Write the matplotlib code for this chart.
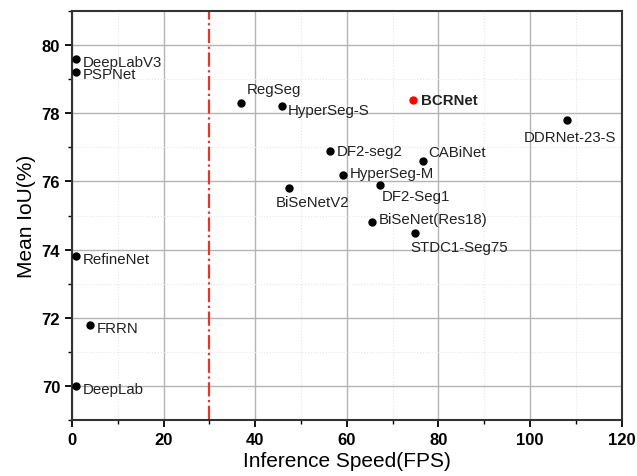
import matplotlib
matplotlib.use('Agg')
from matplotlib import pyplot as plt
from matplotlib.ticker import MultipleLocator

# Data
# ======================================================================
names = ['DeepLabV3', 'PSPNet', 'RegSeg', 'HyperSeg-S', 'BCRNet', 'DDRNet-23-S',
         'DF2-seg2', 'CABiNet', 'HyperSeg-M', 'DF2-Seg1', 'BiSeNetV2',
         'BiSeNet(Res18)', 'STDC1-Seg75', 'RefineNet', 'FRRN', 'DeepLab']
fps = [0.9, 0.9, 36.9, 45.8, 74.4, 108.0, 56.3, 76.6, 59.1, 67.2, 47.3,
       65.5, 74.8, 0.9, 3.9, 0.9]
miou = [79.6, 79.2, 78.3, 78.2, 78.4, 77.8, 76.9, 76.6, 76.2, 75.9, 75.8,
        74.8, 74.5, 73.8, 71.8, 70.0]

# label placement (pixels from the point) and alignment
offsets = {'DeepLabV3': (7, -3), 'PSPNet': (7, -2), 'RegSeg': (6, 14),
           'HyperSeg-S': (6, -4), 'BCRNet': (8, 0), 'DDRNet-23-S': (3, -17),
           'DF2-seg2': (7, 0), 'CABiNet': (5, 9), 'HyperSeg-M': (7, 2),
           'DF2-Seg1': (2, -11), 'BiSeNetV2': (-13, -14), 'BiSeNet(Res18)': (7, 3),
           'STDC1-Seg75': (-4, -14), 'RefineNet': (7, -3), 'FRRN': (7, -3),
           'DeepLab': (7, -3)}
centered = ['DDRNet-23-S']
highlight = 'BCRNet'
threshold_fps = 30

plt.rcParams['font.family'] = ['Liberation Sans', 'DejaVu Sans']

# Figure
# ======================================================================
fig = plt.figure(figsize=(6.37, 4.77), dpi=100)
ax = fig.add_axes([0.113, 0.117, 0.863, 0.858])

for n, x, y in zip(names, fps, miou):
    color = 'red' if n == highlight else 'black'
    ax.plot(x, y, 'o', color=color, markersize=5, zorder=3)
    dx, dy = offsets[n]
    ax.annotate(n, (x, y), xytext=(dx, dy), textcoords='offset pixels',
                ha='center' if n in centered else 'left', va='center',
                fontsize=10.8, color='#222222',
                fontweight='bold' if n == highlight else 'normal')

ax.axvline(threshold_fps, color='#e8352a', linestyle='-.', linewidth=1.6, zorder=2)

ax.set_xlim(0, 120)
ax.set_ylim(69, 81)
ax.xaxis.set_major_locator(MultipleLocator(20))
ax.xaxis.set_minor_locator(MultipleLocator(10))
ax.yaxis.set_major_locator(MultipleLocator(2))
ax.yaxis.set_minor_locator(MultipleLocator(1))

ax.grid(which='major', color='#b4b4b4', linewidth=1.0, zorder=0)
ax.grid(which='minor', color='#e6e6e6', linewidth=0.8, linestyle=':', zorder=0)
ax.set_axisbelow(True)

for s in ax.spines.values():
    s.set_color('#333333')
    s.set_linewidth(1.5)

ax.tick_params(which='major', direction='out', length=5, width=1.3, labelsize=12)
ax.tick_params(which='minor', direction='out', length=3, width=1.0)
for lbl in ax.get_xticklabels() + ax.get_yticklabels():
    lbl.set_fontweight('bold')

ax.set_xlabel('Inference Speed(FPS)', fontsize=15, labelpad=3)
ax.set_ylabel('Mean IoU(%)', fontsize=15, labelpad=4)

plt.savefig('out.png', dpi=100)
